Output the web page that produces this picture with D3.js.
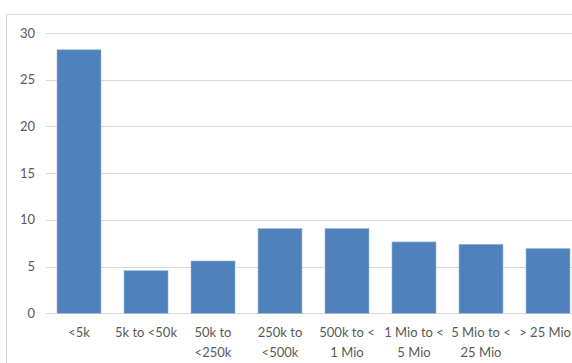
<!DOCTYPE html>
<html><head><meta charset="utf-8">
<script src="https://cdn.jsdelivr.net/npm/d3@7"></script>
<style>html,body{margin:0;padding:0;background:#fff;overflow:hidden}</style>
</head><body>
<script>
const categories = [["<5k"],["5k to <50k"],["50k to","<250k"],["250k to","<500k"],["500k to <","1 Mio"],["1 Mio to <","5 Mio"],["5 Mio to <","25 Mio"],["> 25 Mio"]];
const values = [28.2, 4.56, 5.6, 9.07, 9.07, 7.64, 7.39, 6.93];
const yTicks = [0,5,10,15,20,25,30];

const W = 572, H = 363;
const svg = d3.select("body").append("svg").attr("width", W).attr("height", H);
const font = "Lato, 'Open Sans', sans-serif";

svg.append("rect").attr("x",6.5).attr("y",14.5).attr("width",700).attr("height",400)
  .attr("fill","#fff").attr("stroke","#d9d9d9").attr("stroke-width",1);

const x = d3.scaleBand().domain(d3.range(categories.length)).range([45.5, 581.5])
  .paddingInner(23/67).paddingOuter(23/67/2);
const y = d3.scaleLinear().domain([0,30]).range([313.3, 33]);

const g = svg.append("g");
g.selectAll("line.grid").data(yTicks).join("line").attr("class","grid")
  .attr("x1",46).attr("x2",W).attr("y1",d=>Math.round(y(d))+0.5).attr("y2",d=>Math.round(y(d))+0.5)
  .attr("stroke","#d9d9d9").attr("stroke-width",1);

g.selectAll("text.yl").data(yTicks).join("text").attr("class","yl")
  .attr("x",35).attr("y",d=>y(d)).attr("dy","0.35em").attr("text-anchor","end")
  .attr("font-family",font).attr("font-size",13).attr("fill","#595959").text(d=>d);

g.selectAll("rect.bar").data(values).join("rect").attr("class","bar")
  .attr("x",(d,i)=>x(i)).attr("width",x.bandwidth())
  .attr("y",d=>y(d)).attr("height",d=>y(0)-y(d))
  .attr("fill","#4f81bd").attr("stroke","#9cb8da").attr("stroke-width",0.6);

const lab = g.selectAll("text.xl").data(categories).join("text").attr("class","xl")
  .attr("text-anchor","middle").attr("font-family",font).attr("font-size",13).attr("fill","#595959");
lab.each(function(d,i){
  const t = d3.select(this);
  d.forEach((line,j)=>{
    const ts = t.append("tspan").attr("x", x(i)+x.bandwidth()/2).attr("y", 336.5 + j*20.5).text(line);
    const len = ts.node().getComputedTextLength();
    const cx = x(i)+x.bandwidth()/2;
    if (cx + len/2 > W - 1) ts.attr("x", W - 1 - len/2);
  });
});
</script>
</body></html>
